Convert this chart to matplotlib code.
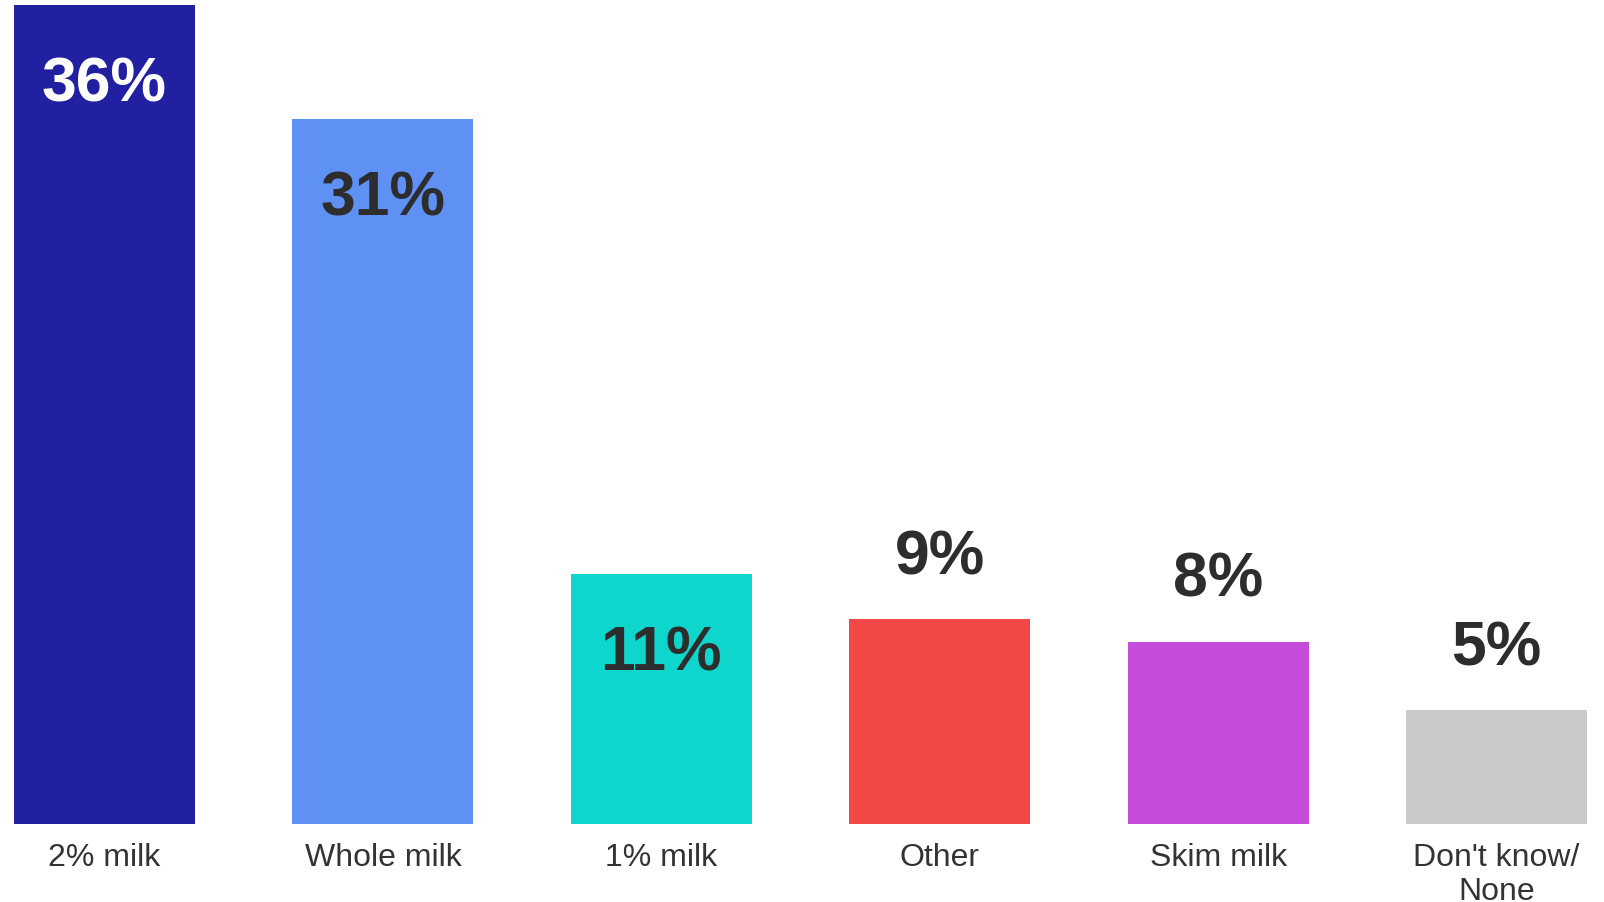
import matplotlib
matplotlib.use("Agg")
import matplotlib.pyplot as plt

categories = ["2% milk", "Whole milk", "1% milk", "Other", "Skim milk", "Don't know/\nNone"]
values = [36, 31, 11, 9, 8, 5]
colors = ["#2020A0", "#5F91F5", "#0FD6CC", "#F44848", "#C44CD8", "#C9C9C9"]
label_colors = ["#FFFFFF", "#2D2D2D", "#2D2D2D", "#2D2D2D", "#2D2D2D", "#2D2D2D"]
inside = [True, True, True, False, False, False]

plt.rcParams['font.family'] = ['Liberation Sans', 'DejaVu Sans']

W, H = 1604, 903
fig = plt.figure(figsize=(W / 100, H / 100), dpi=100)
left, right, top, bottom = 14, 1587, 6, 825
ax = fig.add_axes([left / W, 1 - bottom / H, (right - left) / W, (bottom - top) / H])

x = list(range(len(categories)))
bw = 0.65
ax.bar(x, values, width=bw, color=colors)
ax.set_xlim(-bw / 2, len(categories) - 1 + bw / 2)
ax.set_ylim(0, max(values))

for i, (v, c, ins) in enumerate(zip(values, label_colors, inside)):
    off = -96 if ins else 46
    ax.annotate(f"{v}%", xy=(i, v), xytext=(0, off), textcoords='offset pixels',
                ha='center', va='baseline', fontsize=45, fontweight='bold', color=c)

ax.set_xticks(x)
ax.set_xticklabels(categories, fontsize=23, color="#333333", linespacing=1.17)
ax.tick_params(axis='x', length=0, pad=13)
ax.set_yticks([])
for s in ax.spines.values():
    s.set_visible(False)

fig.savefig("out.png", dpi=100)
